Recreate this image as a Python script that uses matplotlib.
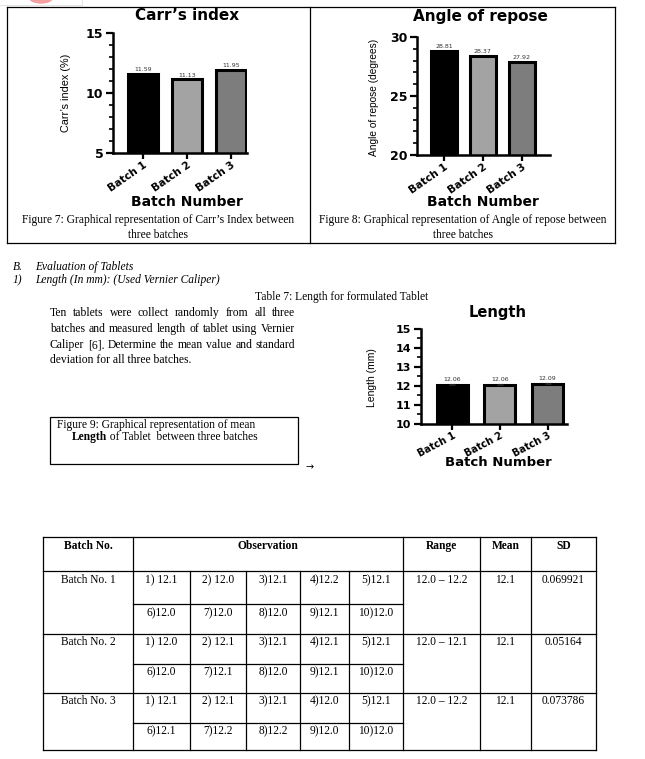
import matplotlib
matplotlib.use('Agg')  # no display

import matplotlib.pyplot as plt
import numpy as np
from matplotlib.lines import Line2D
from matplotlib.patches import Rectangle, Ellipse
from matplotlib.ticker import MultipleLocator

# Page size in pixels (dpi 100)
W, H = 645, 759

# Chart data
batches = ['Batch 1', 'Batch 2', 'Batch 3']
carr_index = [11.59, 11.13, 11.95]
angle_repose = [28.81, 28.37, 27.92]
length_mean = [12.06, 12.06, 12.09]
length_sd = [0.069921, 0.05164, 0.073786]
bar_colors = ['#000000', '#a3a3a3', '#7d7d7d']

# Table 7 data
table_header = ['Batch No.', 'Observation', 'Range', 'Mean', 'SD']
batch_names = ['Batch No. 1', 'Batch No. 2', 'Batch No. 3']
observations = [
    ['1) 12.1', '2) 12.0', '3)12.1', '4)12.2', '5)12.1',
     '6)12.0', '7)12.0', '8)12.0', '9)12.1', '10)12.0'],
    ['1) 12.0', '2) 12.1', '3)12.1', '4)12.1', '5)12.1',
     '6)12.0', '7)12.1', '8)12.0', '9)12.1', '10)12.0'],
    ['1) 12.1', '2) 12.1', '3)12.1', '4)12.0', '5)12.1',
     '6)12.1', '7)12.2', '8)12.2', '9)12.0', '10)12.0'],
]
ranges = ['12.0 \u2013 12.2', '12.0 \u2013 12.1', '12.0 \u2013 12.2']
means = ['12.1', '12.1', '12.1']
sds = ['0.069921', '0.05164', '0.073786']

paragraph = [
    'Ten tablets were collect randomly from all three',
    'batches and measured length of tablet using Vernier',
    'Caliper [6]. Determine the mean value and standard',
    'deviation for all three batches.',
]

SERIF = 'Liberation Serif'
SANS_BOLD = 'DejaVu Sans'
NARROW = ['Liberation Sans Narrow', 'Liberation Sans']
FS = 8.3  # body text size

fig = plt.figure(figsize=(W / 100, H / 100), dpi=100)


def fx(x):
    return x / W


def fy(y):
    return 1 - y / H


def px_axes(x0, y0, x1, y1):
    return fig.add_axes([fx(x0), fy(y1), (x1 - x0) / W, (y1 - y0) / H])


def hline(x0, x1, y, lw=0.9, color='black'):
    fig.add_artist(Line2D([fx(x0), fx(x1)], [fy(y), fy(y)], lw=lw, color=color))


def vline(x, y0, y1, lw=0.9, color='black'):
    fig.add_artist(Line2D([fx(x), fx(x)], [fy(y0), fy(y1)], lw=lw, color=color))


def txt(x, y, s, **kw):
    kw.setdefault('ha', 'center')
    kw.setdefault('va', 'center')
    return fig.text(fx(x), fy(y), s, **kw)


def bar_chart(box, values, ylim, xlim, width, major, minor, yerr=None,
              rot=35, xfs=7.5, yfs=9):
    """Prism-like bar chart placed at a pixel box"""
    ax = px_axes(*box)
    x = np.arange(len(values))
    ax.bar(x, values, width=width, color=bar_colors, edgecolor='black',
           linewidth=2.2, zorder=2)
    if yerr is not None:
        ax.errorbar(x, values, yerr=[np.zeros(len(yerr)), yerr], fmt='none',
                    ecolor='#222222', elinewidth=0.8, capsize=2.5, capthick=0.8, zorder=3)
    ax.set_ylim(*ylim)
    ax.set_xlim(*xlim)
    for side in ['top', 'right']:
        ax.spines[side].set_visible(False)
    for side in ['left', 'bottom']:
        ax.spines[side].set_linewidth(1.8)
    ax.yaxis.set_major_locator(MultipleLocator(major))
    ax.yaxis.set_minor_locator(MultipleLocator(minor))
    ax.tick_params(axis='y', which='major', length=5, width=1.6, pad=2,
                   labelsize=yfs)
    ax.tick_params(axis='y', which='minor', length=3, width=1.2)
    ax.tick_params(axis='x', length=4, width=1.6, pad=1)
    ax.set_xticks(x)
    ax.set_xticklabels(batches, rotation=rot, ha='right', rotation_mode='anchor',
                       fontsize=xfs, fontweight='bold', family=SANS_BOLD)
    for lab in ax.get_yticklabels():
        lab.set_fontweight('bold')
        lab.set_family(SANS_BOLD)
    # value labels above bars
    tops = np.array(values) + (np.array(yerr) if yerr is not None else 0)
    span = ylim[1] - ylim[0]
    for xi, v, t in zip(x, values, tops):
        ax.text(xi, t + span * 0.015, f'{v:.2f}', ha='center', va='bottom',
                fontsize=4.5, color='#333333')
    ax.patch.set_alpha(0)
    return ax


# top-left logo remnant
fig.add_artist(Ellipse((fx(41), fy(-3)), 24 / W, 12 / H, color='#f4a0a0'))
hline(0, 82, 5, lw=0.5, color='#d8d8d8')
vline(82, 0, 5, lw=0.5, color='#d8d8d8')

# ---- Top box with Figure 7 and Figure 8 ----
hline(7, 615, 7)
hline(7, 615, 243)
vline(7, 7, 243)
vline(615, 7, 243)
vline(310, 7, 243)

# Figure 7: Carr's index
bar_chart((113, 33, 247, 153), carr_index, (5, 15), (-0.68, 2.36), 0.68, 5, 1)
txt(187, 15, 'Carr\u2019s index', fontsize=11, fontweight='bold', family=SANS_BOLD)
txt(66, 93, 'Carr\u2019s index (%)', fontsize=7.8, rotation=90, family=NARROW)
txt(187, 202, 'Batch Number', fontsize=10, fontweight='bold', family=SANS_BOLD)
txt(158.5, 220, 'Figure 7: Graphical representation of Carr\u2019s Index between',
    fontsize=FS, family=SERIF)
txt(158.5, 235, 'three batches', fontsize=FS, family=SERIF)

# Figure 8: Angle of repose
bar_chart((417, 37, 550, 155), angle_repose, (20, 30), (-0.69, 2.72), 0.67, 5, 1)
txt(480, 17, 'Angle of repose', fontsize=11, fontweight='bold', family=SANS_BOLD)
txt(374, 97, 'Angle of repose (degrees)', fontsize=7.3, rotation=90, family=NARROW)
txt(483, 202, 'Batch Number', fontsize=10, fontweight='bold', family=SANS_BOLD)
txt(462.5, 220, 'Figure 8: Graphical representation of Angle of repose between',
    fontsize=FS, family=SERIF)
txt(462.5, 235, 'three batches', fontsize=FS, family=SERIF)

# ---- Section headings ----
txt(13, 267, 'B.', ha='left', fontsize=FS, style='italic', family=SERIF)
txt(35, 267, 'Evaluation of Tablets', ha='left', fontsize=FS, style='italic', family=SERIF)
txt(13, 280, '1)', ha='left', fontsize=FS, style='italic', family=SERIF)
txt(35, 280, 'Length (In mm): (Used Vernier Caliper)', ha='left', fontsize=FS,
    style='italic', family=SERIF)
txt(342, 297, 'Table 7: Length for formulated Tablet', fontsize=FS, family=SERIF)

# justified paragraph
renderer = fig.canvas.get_renderer()
para_y = [313, 329, 345, 360]
PFS = 8.4
for i, (line, y) in enumerate(zip(paragraph, para_y)):
    if i == len(paragraph) - 1:
        txt(50, y, line, ha='left', fontsize=PFS, family=SERIF)
        continue
    words = line.split()
    arts = [txt(0, y, w, ha='left', fontsize=PFS, family=SERIF) for w in words]
    widths = [a.get_window_extent(renderer).width for a in arts]
    gap = (295 - 50 - sum(widths)) / (len(words) - 1)
    xpos = 50
    for a, wd in zip(arts, widths):
        a.set_x(fx(xpos))
        xpos += wd + gap

# Figure 9 caption box
fig.add_artist(Rectangle((fx(50), fy(464)), 248 / W, 47 / H, fill=False,
                         lw=0.9, edgecolor='black'))
txt(57, 425, 'Figure 9: Graphical representation of mean', ha='left',
    fontsize=FS, family=SERIF)
t_bold = txt(72, 437, 'Length', ha='left', fontsize=FS, fontweight='bold', family=SERIF)
bw = t_bold.get_window_extent(renderer).width
txt(72 + bw, 437, ' of Tablet  between three batches', ha='left', fontsize=FS,
    family=SERIF)
txt(310, 467, '\u2192', fontsize=7, family='DejaVu Sans')

# Figure 9: Length chart
bar_chart((421, 329, 567, 424), length_mean, (10, 15), (-0.66, 2.41), 0.65, 1, 0.5,
          yerr=length_sd, rot=28, xfs=7, yfs=8)
txt(498, 313, 'Length', fontsize=10.5, fontweight='bold', family=SANS_BOLD)
txt(372, 378, 'Length (mm)', fontsize=7.5, rotation=90, family=NARROW)
txt(498, 463, 'Batch Number', fontsize=9.5, fontweight='bold', family=SANS_BOLD)

# ---- Table 7 ----
cols = [43, 133, 190, 246, 300, 349, 403, 480, 531, 596]
rows = [537, 571, 604, 634, 664, 693, 723, 750]
for y in [rows[0], rows[1], rows[3], rows[5], rows[7]]:
    hline(cols[0], cols[-1], y)
for y in [rows[2], rows[4], rows[6]]:
    hline(cols[1], cols[6], y)
for x in [cols[0], cols[1], cols[6], cols[7], cols[8], cols[9]]:
    vline(x, rows[0], rows[-1])
for x in cols[2:6]:
    vline(x, rows[1], rows[-1])

head_x = [(cols[0] + cols[1]) / 2, (cols[1] + cols[6]) / 2,
          (cols[6] + cols[7]) / 2, (cols[7] + cols[8]) / 2, (cols[8] + cols[9]) / 2]
for hx, h in zip(head_x, table_header):
    txt(hx, 546, h, fontsize=FS, fontweight='bold', family=SERIF)

sub_x = [(cols[i] + cols[i + 1]) / 2 for i in range(1, 6)]
text_y = [(580, 613), (642, 672), (701, 731)]
for b in range(3):
    y1, y2 = text_y[b]
    txt(head_x[0], y1, batch_names[b], fontsize=FS, family=SERIF)
    for k in range(5):
        txt(sub_x[k], y1, observations[b][k], fontsize=FS, family=SERIF)
        txt(sub_x[k], y2, observations[b][k + 5], fontsize=FS, family=SERIF)
    txt(head_x[2], y1, ranges[b], fontsize=FS, family=SERIF)
    txt(head_x[3], y1, means[b], fontsize=FS, family=SERIF)
    txt(head_x[4], y1, sds[b], fontsize=FS, family=SERIF)

fig.savefig('out.png', dpi=100, facecolor='white')
